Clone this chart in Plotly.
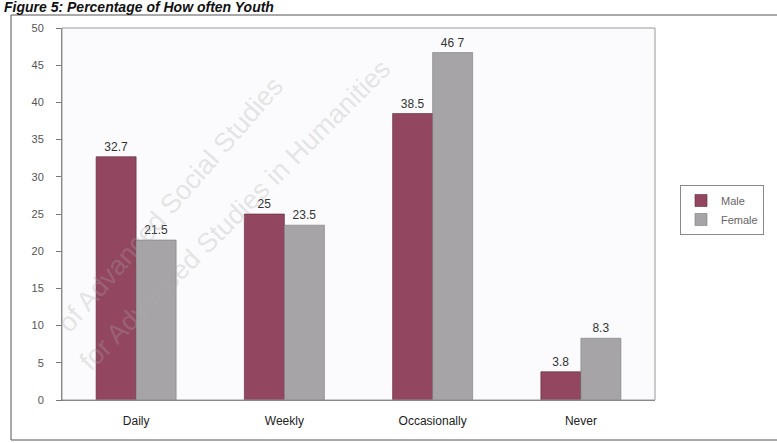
import plotly.graph_objects as go

categories = ["Daily", "Weekly", "Occasionally", "Never"]
male = [32.7, 25, 38.5, 3.8]
female = [21.5, 23.5, 46.7, 8.3]
male_labels = ["32.7", "25", "38.5", "3.8"]
female_labels = ["21.5", "23.5", "46 7", "8.3"]
y_ticks = [0, 5, 10, 15, 20, 25, 30, 35, 40, 45, 50]

W, H = 777, 443
ML, MR, MT, MB = 62, 122, 28, 43
PW, PH = W - ML - MR, H - MT - MB

def px_x(p):
    return (p - ML) / PW

def px_y(p):
    return (H - MB - p) / PH

fig = go.Figure()
fig.add_trace(go.Bar(
    x=categories, y=male, name="Male",
    marker=dict(color="#93465f", line=dict(color="#5a2a3a", width=0.6)),
    text=male_labels, textposition="outside",
    textfont=dict(family="Liberation Sans, Arial", size=12, color="#333333"),
    cliponaxis=False,
))
fig.add_trace(go.Bar(
    x=categories, y=female, name="Female",
    marker=dict(color="#a6a4a6", line=dict(color="#7a787a", width=0.6)),
    text=female_labels, textposition="outside",
    textfont=dict(family="Liberation Sans, Arial", size=12, color="#333333"),
    cliponaxis=False,
))

shapes = [
    # outer chart frame
    dict(type="rect", xref="paper", yref="paper",
         x0=px_x(11), x1=px_x(790), y0=px_y(440), y1=px_y(15),
         line=dict(color="#555555", width=1)),
    # plot area frame
    dict(type="rect", xref="paper", yref="paper", x0=0, x1=1, y0=0, y1=1,
         line=dict(color="#9a9a9a", width=1)),
]

annotations = [
    dict(text="<b><i>Figure 5: Percentage of How often Youth</i></b>",
         xref="paper", yref="paper", x=px_x(2), y=px_y(7),
         xanchor="left", yanchor="middle", showarrow=False,
         font=dict(family="Liberation Sans, Arial", size=14, color="#111111")),
    dict(text="of Advanced Social Studies",
         xref="paper", yref="paper", x=px_x(170), y=px_y(205),
         xanchor="center", yanchor="middle", showarrow=False, textangle=-49,
         font=dict(family="Liberation Sans, Arial", size=27, color="rgba(170,170,170,0.3)")),
    dict(text="for Advanced Studies in Humanities",
         xref="paper", yref="paper", x=px_x(235), y=px_y(215),
         xanchor="center", yanchor="middle", showarrow=False, textangle=-45,
         font=dict(family="Liberation Sans, Arial", size=27, color="rgba(170,170,170,0.3)")),
]

fig.update_layout(
    width=W, height=H,
    margin=dict(l=ML, r=MR, t=MT, b=MB),
    paper_bgcolor="#ffffff",
    plot_bgcolor="#fbfbfd",
    barmode="group",
    bargap=0.46,
    bargroupgap=0.0,
    showlegend=True,
    legend=dict(
        x=px_x(680), y=px_y(185), xanchor="left", yanchor="top",
        bordercolor="#8a8a8a", borderwidth=1, bgcolor="#ffffff",
        font=dict(family="Liberation Sans, Arial", size=11, color="#666666"),
        tracegroupgap=0,
    ),
    xaxis=dict(
        showline=True, linecolor="#777777", linewidth=1,
        ticks="outside", ticklen=10, tickcolor="rgba(0,0,0,0)",
        showgrid=False,
        tickfont=dict(family="Liberation Sans, Arial", size=12, color="#222222"),
    ),
    yaxis=dict(
        range=[0, 50], tickvals=y_ticks,
        showline=True, linecolor="#777777", linewidth=1,
        ticks="outside", ticklen=5, tickcolor="#777777",
        ticklabelstandoff=10,
        showgrid=False, zeroline=False,
        tickfont=dict(family="Liberation Sans, Arial", size=11, color="#555555"),
    ),
    shapes=shapes,
    annotations=annotations,
)

fig.write_html("out.html")
